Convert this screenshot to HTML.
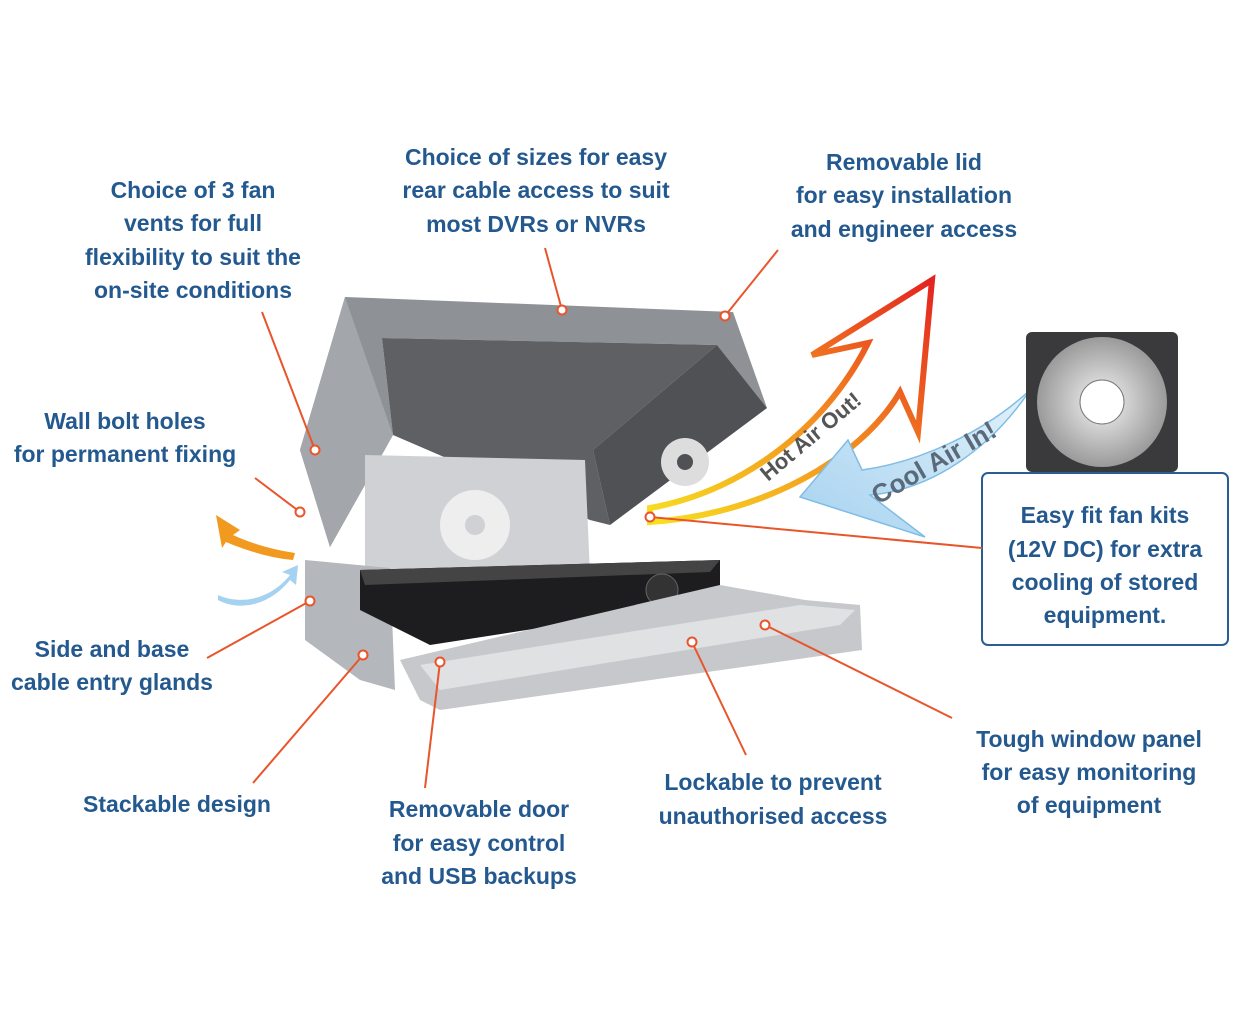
<!DOCTYPE html>
<html><head><meta charset="utf-8"><style>
html,body{margin:0;padding:0;background:#fff;}
svg{display:block}
text{font-family:"Liberation Sans",sans-serif;fill:#24598f;font-size:23px;font-weight:bold;}
</style></head><body>
<svg width="1245" height="1019" viewBox="0 0 1245 1019">
<defs>
<linearGradient id="hot" x1="0" y1="1" x2="1" y2="0">
<stop offset="0" stop-color="#f7e020"/><stop offset="0.5" stop-color="#f39020"/><stop offset="1" stop-color="#e42320"/></linearGradient>
<linearGradient id="cool" x1="1" y1="0" x2="0" y2="1">
<stop offset="0" stop-color="#e2f1fa"/><stop offset="1" stop-color="#a6d2f0"/></linearGradient>
<radialGradient id="fan" cx="0.5" cy="0.5" r="0.5"><stop offset="0" stop-color="#f4f4f4"/><stop offset="1" stop-color="#9a9a9a"/></radialGradient>
</defs>
<!-- arrows -->
<path d="M650,522 C760,515 860,460 900,392 L918,432 L932,280 L812,355 L868,343 C830,420 750,490 650,508 Z" fill="#fff" stroke="url(#hot)" stroke-width="6" stroke-linejoin="miter"/>
<path d="M1030,390 C990,450 930,490 870,495 L925,537 L800,497 L848,440 L862,470 C920,462 985,432 1030,390 Z" fill="url(#cool)" stroke="#7fbde6" stroke-width="1.5"/>
<text x="0" y="0" transform="translate(768,482) rotate(-40)" style="font-size:22px;fill:#555">Hot Air Out!</text>
<text x="0" y="0" transform="translate(878,505) rotate(-30)" style="font-size:26px;fill:#5a6a7a">Cool Air In!</text>
<path d="M216,515 L240,530 L233,535 C255,545 275,550 295,553 L293,560 C270,558 245,550 226,542 L222,548 Z" fill="#f29a1f"/>
<path d="M218,595 C240,605 270,600 290,575 L282,572 L298,565 L296,585 L290,580 C270,605 240,612 218,600Z" fill="#a5d2f0"/>
<!-- box -->
<polygon points="345,297 733,312 767,408 717,345 382,338 393,435 330,547 300,450" fill="#8e9196"/>
<polygon points="382,338 717,345 593,450 610,525 590,520 393,435" fill="#5e6064"/>
<polygon points="345,297 393,435 330,547 300,450" fill="#a3a6aa"/>
<polygon points="717,345 767,408 610,525 593,450" fill="#4f5155"/>
<polygon points="365,455 585,460 590,575 365,575" fill="#cfd1d4"/>
<circle cx="475" cy="525" r="35" fill="#eee"/><circle cx="475" cy="525" r="10" fill="#cfd1d4"/>
<circle cx="685" cy="462" r="24" fill="#ddd"/><circle cx="685" cy="462" r="8" fill="#4f5155"/>
<polygon points="305,560 390,568 395,690 360,680 305,640" fill="#b4b7bb"/>
<polygon points="360,570 720,560 720,600 430,645 360,610" fill="#1d1d1f"/>
<polygon points="360,570 720,560 710,572 365,585" fill="#444"/>
<circle cx="662" cy="590" r="16" fill="#333" stroke="#666"/>
<polygon points="400,660 720,585 805,600 860,605 862,650 440,710 420,700" fill="#c6c8cb"/>
<polygon points="420,665 800,605 855,610 840,625 440,690" fill="#dfe1e3"/>
<!-- fan -->
<rect x="1026" y="332" width="152" height="140" rx="6" fill="#3a3a3c"/>
<circle cx="1102" cy="402" r="65" fill="url(#fan)"/>
<circle cx="1102" cy="402" r="22" fill="#fff" stroke="#777"/>
<!-- callout box -->
<rect x="982" y="473" width="246" height="172" rx="6" fill="#fff" stroke="#2a5d90" stroke-width="2"/>
<!-- leader lines -->
<g stroke="#e8552b" stroke-width="2" fill="#fff">
<line x1="262" y1="312" x2="315" y2="450"/><circle cx="315" cy="450" r="4.5"/>
<line x1="545" y1="248" x2="562" y2="310"/><circle cx="562" cy="310" r="4.5"/>
<line x1="778" y1="250" x2="725" y2="316"/><circle cx="725" cy="316" r="4.5"/>
<line x1="255" y1="478" x2="300" y2="512"/><circle cx="300" cy="512" r="4.5"/>
<line x1="207" y1="658" x2="310" y2="601"/><circle cx="310" cy="601" r="4.5"/>
<line x1="253" y1="783" x2="363" y2="655"/><circle cx="363" cy="655" r="4.5"/>
<line x1="425" y1="788" x2="440" y2="662"/><circle cx="440" cy="662" r="4.5"/>
<line x1="746" y1="755" x2="692" y2="642"/><circle cx="692" cy="642" r="4.5"/>
<line x1="952" y1="718" x2="765" y2="625"/><circle cx="765" cy="625" r="4.5"/>
<line x1="982" y1="548" x2="650" y2="517"/><circle cx="650" cy="517" r="4.5"/>
</g>
<!-- labels -->
<g text-anchor="middle">
<text x="193" y="198">Choice of 3 fan</text><text x="193" y="231">vents for full</text><text x="193" y="265">flexibility to suit the</text><text x="193" y="298">on-site conditions</text>
<text x="536" y="165">Choice of sizes for easy</text><text x="536" y="198">rear cable access to suit</text><text x="536" y="232">most DVRs or NVRs</text>
<text x="904" y="170">Removable lid</text><text x="904" y="203">for easy installation</text><text x="904" y="237">and engineer access</text>
<text x="125" y="429">Wall bolt holes</text><text x="125" y="462">for permanent fixing</text>
<text x="112" y="657">Side and base</text><text x="112" y="690">cable entry glands</text>
<text x="177" y="812">Stackable design</text>
<text x="479" y="817">Removable door</text><text x="479" y="851">for easy control</text><text x="479" y="884">and USB backups</text>
<text x="773" y="790">Lockable to prevent</text><text x="773" y="824">unauthorised access</text>
<text x="1089" y="747">Tough window panel</text><text x="1089" y="780">for easy monitoring</text><text x="1089" y="813">of equipment</text>
<text x="1105" y="523">Easy fit fan kits</text><text x="1105" y="557">(12V DC) for extra</text><text x="1105" y="590">cooling of stored</text><text x="1105" y="623">equipment.</text>
</g>
</svg>
</body></html>
